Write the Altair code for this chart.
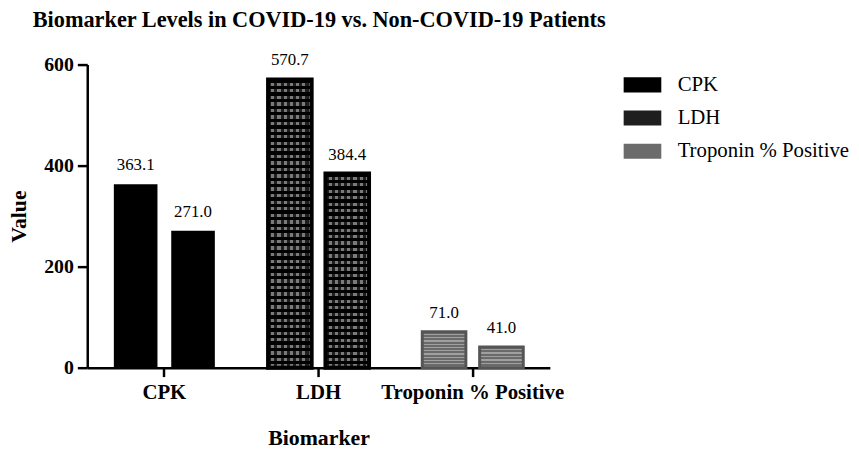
import altair as alt
import pandas as pd

biomarkers = ["CPK", "LDH", "Troponin % Positive"]
groups = ["COVID-19", "Non-COVID-19"]
covid_values = [363.1, 570.7, 71.0]
non_covid_values = [271.0, 384.4, 41.0]

rows = []
for b, c, n in zip(biomarkers, covid_values, non_covid_values):
    rows.append({"biomarker": b, "group": groups[0], "value": c})
    rows.append({"biomarker": b, "group": groups[1], "value": n})
df = pd.DataFrame(rows)

FONT = "'Liberation Serif', 'Times New Roman', serif"
PX_PER_UNIT = 306 / 600


def stripes(n, on, off, vertical, on_frac=0.5):
    stops = []
    for i in range(n):
        a = i / n
        m = (i + on_frac) / n
        b = (i + 1) / n
        stops += [
            alt.GradientStop(color=on, offset=a),
            alt.GradientStop(color=on, offset=m),
            alt.GradientStop(color=off, offset=m),
            alt.GradientStop(color=off, offset=b),
        ]
    if vertical:
        return alt.LinearGradient(gradient="linear", stops=stops, x1=0, x2=0, y1=0, y2=1)
    return alt.LinearGradient(gradient="linear", stops=stops, x1=0, x2=1, y1=0, y2=0)


x_enc = alt.X(
    "biomarker:N",
    scale=alt.Scale(domain=biomarkers, paddingInner=0.345, paddingOuter=0.1725),
    axis=alt.Axis(title="Biomarker", labelAngle=0, labelPadding=5, labelFontSize=21,
                  labelLimit=400, titlePadding=26),
)
xo_enc = alt.XOffset("group:N", scale=alt.Scale(domain=groups, paddingInner=0.24, paddingOuter=0))
y_enc = alt.Y(
    "value:Q",
    scale=alt.Scale(domain=[0, 600], nice=False),
    axis=alt.Axis(title="Value", values=[0, 200, 400, 600], labelPadding=4, tickSize=10,
                  labelFontSize=20, titlePadding=13),
)

base = alt.Chart(df).encode(x=x_enc, xOffset=xo_enc, y=y_enc)

bars = base.mark_bar(strokeWidth=0).encode(
    fill=alt.Fill(
        "biomarker:N",
        scale=alt.Scale(domain=biomarkers, range=["#000000", "#1e1e1e", "#6b6b6b"]),
        legend=alt.Legend(
            title=None,
            orient="none",
            legendX=550,
            legendY=10,
            padding=0,
            symbolType="M-2,-0.8H2V0.8H-2Z",
            symbolSize=361,
            symbolStrokeWidth=0,
            labelFont=FONT,
            labelFontSize=21,
            labelColor="black",
            labelOffset=25,
            rowPadding=11.5,
            labelLimit=300,
        ),
    )
)

layers = [bars]
for b, g, v in zip(df["biomarker"], df["group"], df["value"]):
    h = v * PX_PER_UNIT
    sel = (alt.datum.biomarker == b) & (alt.datum.group == g)
    if b == "LDH":
        cols = stripes(7, "transparent", "#7a7a7a", vertical=False)
        rws = stripes(max(1, round(h / 6.6)), "#000000", "transparent", vertical=True)
        layers.append(base.mark_bar(fill=cols, strokeWidth=0).transform_filter(sel))
        layers.append(base.mark_bar(fill=rws, stroke="#000000", strokeWidth=4).transform_filter(sel))
    elif b == "Troponin % Positive":
        st = stripes(max(1, round(h / 3.4)), "#6a6a6a", "#a0a0a0", vertical=True, on_frac=0.6)
        layers.append(base.mark_bar(fill=st, stroke="#555555", strokeWidth=3).transform_filter(sel))

labels = base.mark_text(
    baseline="alphabetic", dy=-14, font=FONT, fontSize=17, color="black"
).encode(text=alt.Text("value:Q", format=".1f"))
layers.append(labels)

chart = (
    alt.layer(*layers)
    .properties(
        width=467,
        height=306,
        title=alt.TitleParams(
            "Biomarker Levels in COVID-19 vs. Non-COVID-19 Patients",
            anchor="start",
            frame="group",
            dx=-55,
            offset=20,
            font=FONT,
            fontSize=22.5,
            fontWeight="bold",
            color="black",
        ),
        autosize=alt.AutoSizeParams(type="none"),
        padding={"left": 80, "top": 55, "right": 304, "bottom": 82},
    )
    .configure_view(stroke=None)
    .configure_axis(
        labelFont=FONT,
        labelFontWeight="bold",
        labelColor="black",
        titleFont=FONT,
        titleFontSize=22,
        titleFontWeight="bold",
        titleColor="black",
        domainColor="black",
        domainWidth=2.5,
        tickColor="black",
        tickWidth=2.5,
        tickSize=9,
        grid=False,
    )
)

chart.save("out.html", embed_options={"renderer": "svg", "actions": False})
